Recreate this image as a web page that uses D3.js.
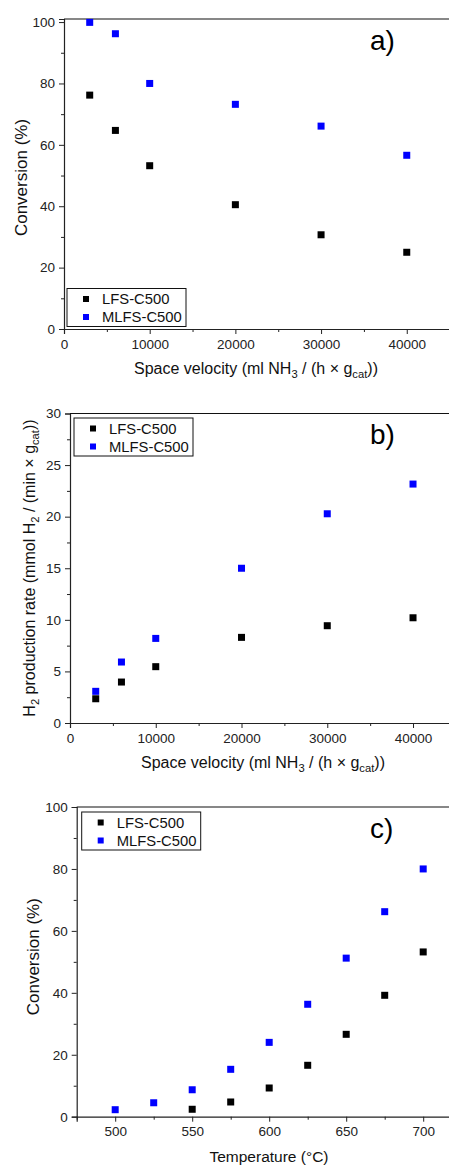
<!DOCTYPE html>
<html>
<head>
<meta charset="utf-8">
<script src="https://cdn.jsdelivr.net/npm/d3@7"></script>
<style>
  body { margin: 0; background: #ffffff; }
  svg { display: block; font-family: "Liberation Sans", Arial, sans-serif; }
</style>
</head>
<body>
<svg id="chart" width="449" height="1168"></svg>
<script>
// panel a / b: space velocity series
const velocity = [3000, 6000, 10000, 20000, 30000, 40000];
const convLFS = [76.2, 64.7, 53.2, 40.5, 30.7, 25.0];
const convMLFS = [99.9, 96.2, 80.0, 73.2, 66.1, 56.6];
const h2LFS = [2.35, 3.97, 5.46, 8.3, 9.43, 10.2];
const h2MLFS = [3.07, 5.91, 8.2, 15.0, 20.28, 23.16];
// panel c: temperature series
const tempLFS = [550, 575, 600, 625, 650, 675, 700];
const tconvLFS = [2.4, 4.75, 9.27, 16.6, 26.6, 39.2, 53.2];
const tempMLFS = [500, 525, 550, 575, 600, 625, 650, 675, 700];
const tconvMLFS = [2.26, 4.5, 8.7, 15.3, 24.0, 36.3, 51.2, 66.2, 80.0];
const seriesNames = ["LFS-C500", "MLFS-C500"];
const seriesColors = ["#000000", "#0000ff"];

const svg = d3.select("#chart");

function subText(sel, parts) {
  parts.forEach(function(p) {
    const t = sel.append("tspan").text(p[0]);
    if (p[1] === "sub") t.attr("font-size", "0.7em").attr("dy", 4);
    if (p[1] === "back") t.attr("dy", -4);
  });
}

function isMajor(d, step) {
  return Math.abs(d / step - Math.round(d / step)) < 1e-6;
}

function drawPanel(cfg) {
  const g = svg.append("g");
  const x = d3.scaleLinear().domain(cfg.xDomain).range(cfg.xRange);
  const y = d3.scaleLinear().domain(cfg.yDomain).range(cfg.yRange);

  const xMinor = d3.range(cfg.xDomain[0], cfg.xDomain[1] + 1e-9, cfg.xMinor);
  const yMinor = d3.range(cfg.yDomain[0], cfg.yDomain[1] + 1e-9, cfg.yMinor);
  const xAxis = g.append("g").attr("transform", "translate(0," + y(cfg.yDomain[0]) + ")")
    .call(d3.axisBottom(x).tickValues(xMinor).tickSize(5).tickPadding(5)
      .tickFormat(function(d) { return isMajor(d, cfg.xMajor) && d >= cfg.xLabelMin ? d : ""; }));
  xAxis.selectAll(".tick line").attr("y2", function(d) { return isMajor(d, cfg.xMajor) ? 5 : 3; });
  const yAxis = g.append("g").attr("transform", "translate(" + x(cfg.xDomain[0]) + ",0)")
    .call(d3.axisLeft(y).tickValues(yMinor).tickSize(5).tickPadding(4)
      .tickFormat(function(d) { return isMajor(d, cfg.yMajor) ? d : ""; }));
  yAxis.selectAll(".tick line").attr("x2", function(d) { return isMajor(d, cfg.yMajor) ? -5 : -3; });
  [xAxis, yAxis].forEach(function(a) {
    a.select(".domain").attr("stroke", "#222").attr("stroke-width", 1.2);
    a.selectAll(".tick line").attr("stroke", "#222");
    a.selectAll("text").attr("font-size", 13.5).attr("fill", "#222")
      .attr("font-family", "'Liberation Sans', Arial, sans-serif");
  });
  // top frame line
  g.append("line").attr("x1", x(cfg.xDomain[0])).attr("x2", 449)
    .attr("y1", y(cfg.yDomain[1])).attr("y2", y(cfg.yDomain[1]))
    .attr("stroke", "#111").attr("stroke-width", 1.2);

  // points
  cfg.series.forEach(function(s, i) {
    g.selectAll(null).data(s.xs.map(function(v, k) { return [v, s.ys[k]]; }))
      .join("rect")
      .attr("x", function(d) { return x(d[0]) - 3.5; })
      .attr("y", function(d) { return y(d[1]) - 3.5; })
      .attr("width", 7).attr("height", 7)
      .attr("fill", seriesColors[i]);
  });

  // legend
  const lg = g.append("g").attr("transform", "translate(" + cfg.legend[0] + "," + cfg.legend[1] + ")");
  lg.append("rect").attr("width", 119).attr("height", 38).attr("fill", "#fff")
    .attr("stroke", "#111").attr("stroke-width", 1);
  seriesNames.forEach(function(name, i) {
    lg.append("rect").attr("x", 16).attr("y", 7.5 + i * 18).attr("width", 6).attr("height", 6)
      .attr("fill", seriesColors[i]);
    lg.append("text").attr("x", 35).attr("y", 15.5 + i * 18).attr("font-size", 14.8)
      .attr("fill", "#111").text(name);
  });

  // panel tag
  g.append("text").attr("x", 370).attr("y", cfg.tagY).attr("font-size", 28)
    .attr("fill", "#000").text(cfg.tag);

  // axis titles
  const xt = g.append("text").attr("x", cfg.xTitle[0]).attr("y", cfg.xTitle[1])
    .attr("text-anchor", "middle").attr("font-size", cfg.xTitleSize).attr("fill", "#111");
  subText(xt, cfg.xTitleParts);
  const yt = g.append("text")
    .attr("transform", "translate(" + cfg.yTitle[0] + "," + cfg.yTitle[1] + ") rotate(-90)")
    .attr("text-anchor", "middle").attr("font-size", cfg.yTitleSize).attr("fill", "#111");
  subText(yt, cfg.yTitleParts);
}

const svParts = [["Space velocity (ml NH"], ["3", "sub"], [" / (h \u00d7 g", "back"], ["cat", "sub"], ["))", "back"]];

drawPanel({
  xDomain: [0, 45000], xRange: [64, 449.6], xMajor: 10000, xMinor: 5000, xLabelMin: 0,
  yDomain: [0, 101], yRange: [329, 19], yMajor: 20, yMinor: 10,
  series: [{ xs: velocity, ys: convLFS }, { xs: velocity, ys: convMLFS }],
  legend: [67, 288.5], tag: "a)", tagY: 50,
  xTitle: [256, 374], xTitleParts: svParts, xTitleSize: 16,
  yTitle: [27, 177.5], yTitleParts: [["Conversion (%)"]], yTitleSize: 17
});

drawPanel({
  xDomain: [0, 45000], xRange: [70, 455.9], xMajor: 10000, xMinor: 5000, xLabelMin: 0,
  yDomain: [0, 30], yRange: [723, 413.5], yMajor: 5, yMinor: 2.5,
  series: [{ xs: velocity, ys: h2LFS }, { xs: velocity, ys: h2MLFS }],
  legend: [74, 418], tag: "b)", tagY: 444,
  xTitle: [263, 768], xTitleParts: svParts, xTitleSize: 16,
  yTitle: [35, 568], yTitleSize: 16,
  yTitleParts: [["H"], ["2", "sub"], [" production rate (mmol H", "back"], ["2", "sub"],
    [" / (min \u00d7 g", "back"], ["cat", "sub"], ["))", "back"]]
});

drawPanel({
  xDomain: [475, 725], xRange: [76.7, 461.7], xMajor: 50, xMinor: 25, xLabelMin: 500,
  yDomain: [0, 100], yRange: [1116.7, 807], yMajor: 20, yMinor: 10,
  series: [{ xs: tempLFS, ys: tconvLFS }, { xs: tempMLFS, ys: tconvMLFS }],
  legend: [81.7, 812], tag: "c)", tagY: 838,
  xTitle: [269, 1162], xTitleParts: [["Temperature (\u00b0C)"]], xTitleSize: 15.5,
  yTitle: [39, 956.7], yTitleParts: [["Conversion (%)"]], yTitleSize: 17
});
</script>
</body>
</html>
